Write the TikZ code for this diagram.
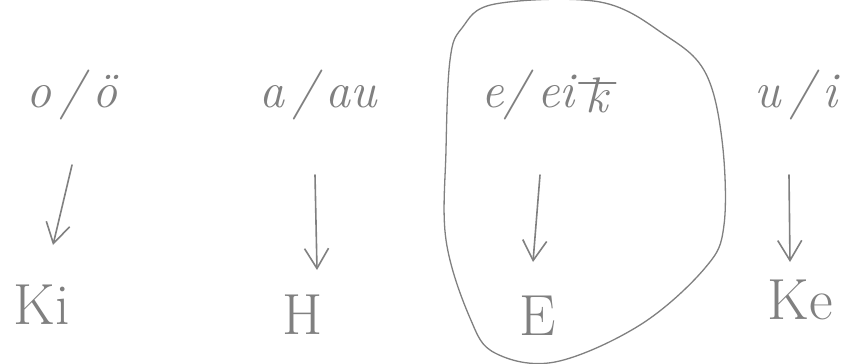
\documentclass[tikz,border=0pt]{standalone}
\usetikzlibrary{arrows.meta}
\definecolor{pencil}{RGB}{128,128,128}
\begin{document}
\begin{tikzpicture}[x=1pt,y=-1pt,
  handtext/.style={text=pencil,font=\itshape\fontsize{50}{50}\selectfont,inner sep=0pt},
  bottomtext/.style={text=pencil,font=\fontsize{58}{58}\selectfont,inner sep=0pt},
  pencilline/.style={draw=pencil,line width=1.6pt,line cap=round,line join=round},
  downarrow/.style={pencilline,-{Straight Barb[length=20pt,width=24pt,line width=1.6pt]}}]
\useasboundingbox[fill=white] (0,0) rectangle (849,364);
% top row
\node[handtext] (t1) at (72,95) {o\,/\,ö};
\node[handtext] (t2) at (318,95) {a\,/\,au};
\node[handtext] (t3) at (528,95) {e/\,ei};
\node[handtext,anchor=west] (t3k) at ([xshift=10pt]t3.east) {k};
\node[handtext] (t4) at (796,95) {u\,/\,i};
\draw[pencilline] ([xshift=-6pt,yshift=-6pt]t3k.north west) -- ([xshift=8pt,yshift=-6pt]t3k.north east);
% bottom row
\node[bottomtext] (b1) at (42,305) {Ki};
\node[bottomtext] (b2) at (303,315) {H};
\node[bottomtext] (b3) at (538,316) {E};
\node[bottomtext] (b4) at (800,300) {Ke};
% arrows
\coordinate (a1s) at (72,165); \coordinate (a1e) at (53,245);
\coordinate (a2s) at (315,175); \coordinate (a2e) at (317,270);
\coordinate (a3s) at (540,175); \coordinate (a3e) at (533,262);
\coordinate (a4s) at (789,175); \coordinate (a4e) at (790,262);
\draw[downarrow] (a1s) -- (a1e);
\draw[downarrow] (a2s) -- (a2e);
\draw[downarrow] (a3s) -- (a3e);
\draw[downarrow] (a4s) -- (a4e);
% blob around the e/ei column
\draw[pencilline,line width=1.3pt] plot[smooth cycle,tension=0.6] coordinates {
  (462,28) (495,4) (600,2) (665,35) (705,72) (722,140) (724,225)
  (705,268) (640,325) (555,362) (495,353) (470,318) (446,240) (446,150) (450,60)};
\end{tikzpicture}
\end{document}
